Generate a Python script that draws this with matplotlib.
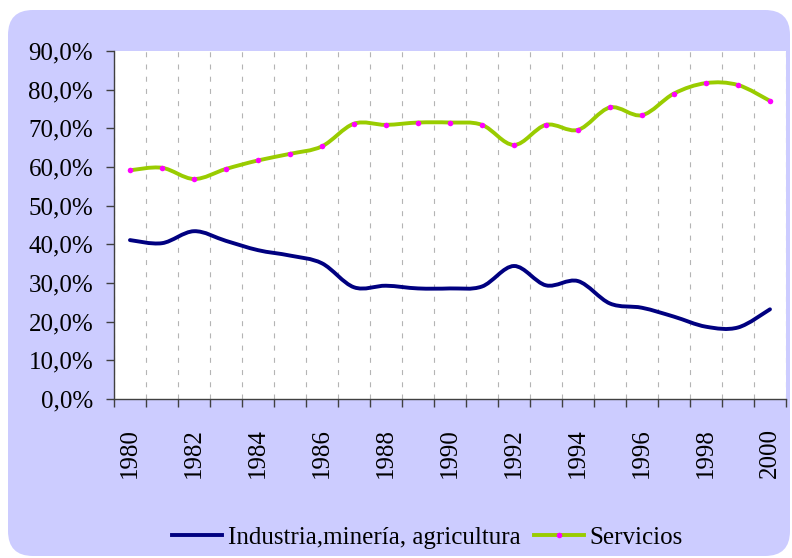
import matplotlib.pyplot as plt
import numpy as np
from matplotlib.path import Path
from matplotlib.patches import PathPatch, FancyBboxPatch
from matplotlib.lines import Line2D
from matplotlib.ticker import FuncFormatter, MultipleLocator

anios = list(range(1980, 2001))
industria = [41.1, 40.3, 43.4, 40.9, 38.5, 37.1, 35.1, 28.9, 29.3, 28.6, 28.6,
             29.1, 34.4, 29.4, 30.5, 24.7, 23.6, 21.3, 18.7, 18.5, 23.2]
servicios = [59.15, 59.8, 56.9, 59.5, 61.7, 63.4, 65.35, 71.2, 70.9, 71.5, 71.5,
             70.9, 65.7, 70.9, 69.6, 75.4, 73.4, 79.0, 81.7, 81.2, 77.1]
etiquetas = [str(a) if a % 2 == 0 else '' for a in anios]

plt.rcParams['font.family'] = ['Liberation Serif', 'DejaVu Serif']


def curva_suave(x, y):
    # Bezier tipo Catmull-Rom, como la linea suavizada de Excel
    x = np.asarray(x, float)
    y = np.asarray(y, float)
    pts = np.column_stack([x, y])
    n = len(pts)
    verts = [pts[0]]
    codes = [Path.MOVETO]
    for i in range(n - 1):
        p0 = pts[i - 1] if i > 0 else pts[i]
        p1 = pts[i]
        p2 = pts[i + 1]
        p3 = pts[i + 2] if i + 2 < n else pts[i + 1]
        c1 = p1 + (p2 - p0) / 6
        c2 = p2 - (p3 - p1) / 6
        verts += [c1, c2, p2]
        codes += [Path.CURVE4] * 3
    return Path(verts, codes)


fig = plt.figure(figsize=(7.92, 5.58), dpi=100)

fondo = FancyBboxPatch((0.08, 0.02), 7.82, 5.46,
                       boxstyle='round,pad=0,rounding_size=0.25',
                       transform=fig.dpi_scale_trans,
                       facecolor='#CCCCFF', edgecolor='none', zorder=-5)
fig.patches.append(fondo)

ax = fig.add_axes([0.1439, 0.2849, 0.8485, 0.6237])
ax.set_facecolor('white')

x = np.arange(len(anios))
ax.add_patch(PathPatch(curva_suave(x, industria), fill=False,
                       edgecolor='#000080', lw=2.8, capstyle='round', zorder=3))
ax.add_patch(PathPatch(curva_suave(x, servicios), fill=False,
                       edgecolor='#99CC00', lw=2.8, capstyle='round', zorder=3))
ax.plot(x, servicios, 'o', color='#FF00FF', ms=4, mec='none', zorder=4)

ax.set_xlim(-0.5, len(anios) - 0.5)
ax.set_ylim(0, 90)
ax.yaxis.set_major_locator(MultipleLocator(10))
ax.yaxis.set_major_formatter(FuncFormatter(lambda v, p: f'{v:.1f}%'.replace('.', ',')))

ax.set_xticks(x)
ax.set_xticklabels(etiquetas, rotation=90)
ax.set_xticks(np.arange(-0.5, len(anios)), minor=True)
ax.tick_params(axis='x', which='major', length=0, pad=21, labelsize=18)
ax.tick_params(axis='x', which='minor', length=6, color='#404040', width=1)
ax.tick_params(axis='y', length=6, color='#404040', width=1, pad=9, labelsize=18)

ax.grid(True, axis='x', which='minor', color='#B4B4B4', lw=0.8,
        linestyle=(0, (4.5, 6.5)))
ax.set_axisbelow(True)

for lado in ['top', 'right']:
    ax.spines[lado].set_visible(False)
for lado in ['left', 'bottom']:
    ax.spines[lado].set_color('#404040')
    ax.spines[lado].set_linewidth(1)

manejadores = [
    Line2D([], [], color='#000080', lw=2.8),
    Line2D([], [], color='#99CC00', lw=2.8, marker='o', ms=4,
           markerfacecolor='#FF00FF', markeredgecolor='none'),
]
fig.legend(manejadores, ['Industria,minería, agricultura', 'Servicios'],
           loc='center', bbox_to_anchor=(0.54, 0.036), ncol=2, frameon=False,
           fontsize=18, handlelength=2.0, handletextpad=0.25, columnspacing=0.5)

plt.savefig('out.png', dpi=100)
